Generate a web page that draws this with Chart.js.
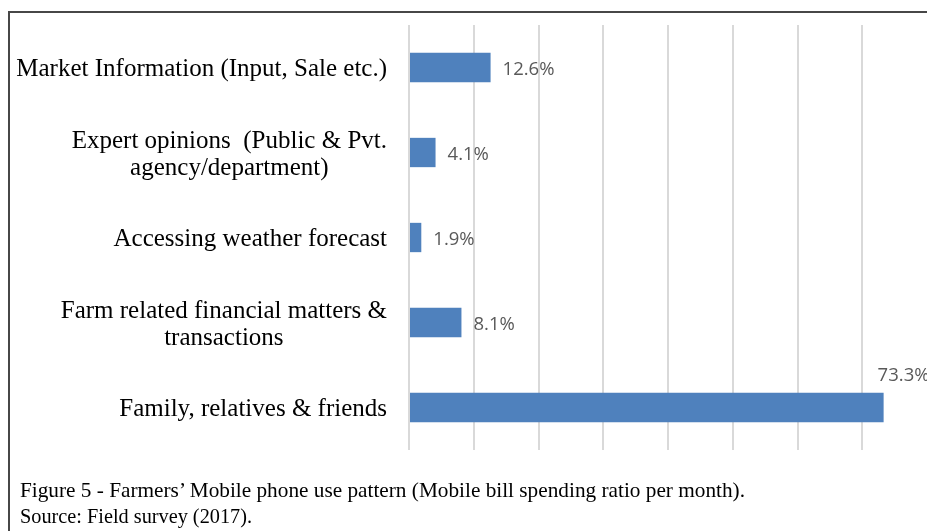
<!DOCTYPE html>
<html>
<head>
<meta charset="utf-8">
<script src="https://cdn.jsdelivr.net/npm/chart.js@4.4.1/dist/chart.umd.min.js"></script>
<style>
  html, body { margin: 0; padding: 0; background: #ffffff; }
  #wrap { position: relative; width: 927px; height: 531px; overflow: hidden; background: #fff; }
  #c { position: absolute; left: 0; top: 0; }
  .bt { position: absolute; left: 8px; top: 11px; width: 919px; height: 2px; background: #474747; }
  .bl { position: absolute; left: 8px; top: 11px; width: 2px; height: 520px; background: #474747; }
  .cap { position: absolute; left: 20px; font-family: "Liberation Serif", "Times New Roman", serif; font-size: 21.5px; color: #000; white-space: nowrap; line-height: 1; transform-origin: 0 0; }
</style>
</head>
<body>
<div id="wrap">
  <canvas id="c" width="927" height="531"></canvas>
  <div class="bt"></div>
  <div class="bl"></div>
  <div class="cap" id="cap1" style="top:480px;">Figure 5 - Farmers’ Mobile phone use pattern (Mobile bill spending ratio per month).</div>
  <div class="cap" id="cap2" style="top:506px;">Source: Field survey (2017).</div>
</div>
<script>
const categories = [
  ["Market Information (Input, Sale etc.)"],
  ["Expert opinions  (Public & Pvt.", "agency/department)"],
  ["Accessing weather forecast"],
  ["Farm related financial matters &", "transactions"],
  ["Family, relatives & friends"]
];
const values = [12.6, 4.1, 1.9, 8.1, 73.3];
const valueLabels = ["12.6%", "4.1%", "1.9%", "8.1%", "73.3%"];
const axisMin = 0;
const axisMax = 80;
const axisStep = 10;

// fit caption lines to the widths seen in the figure
[["cap1", 725], ["cap2", 232]].forEach(([id, target]) => {
  const el = document.getElementById(id);
  const w = el.getBoundingClientRect().width;
  if (w > 0) el.style.transform = 'scaleX(' + (target / w) + ')';
});

const labelPlugin = {
  id: 'labelPlugin',
  afterDraw(chart) {
    const ctx = chart.ctx;
    const meta = chart.getDatasetMeta(0);
    const yScale = chart.scales.y;
    ctx.save();
    // value labels
    ctx.font = '18.5px "Open Sans", "Liberation Sans", sans-serif';
    ctx.fillStyle = '#595959';
    ctx.textBaseline = 'middle';
    ctx.textAlign = 'left';
    meta.data.forEach((bar, i) => {
      const text = valueLabels[i];
      const w = ctx.measureText(text).width;
      let x = bar.x + 12;
      let y = bar.y + 2;
      if (x + w > chart.width) {
        x = bar.x - 6;
        y = bar.y - bar.height / 2 - 17;
      }
      ctx.fillText(text, x, y);
    });
    // category labels
    ctx.font = '25px "Liberation Serif", "Times New Roman", serif';
    ctx.fillStyle = '#000000';
    ctx.textAlign = 'center';
    const rightEdge = 387;
    const lh = 27;
    categories.forEach((lines, i) => {
      const cy = yScale.getPixelForTick(i) + 2;
      let maxW = 0;
      lines.forEach(l => { maxW = Math.max(maxW, ctx.measureText(l).width); });
      const cx = rightEdge - maxW / 2;
      lines.forEach((l, j) => {
        const y = cy + (j - (lines.length - 1) / 2) * lh;
        ctx.fillText(l, cx, y);
      });
    });
    ctx.restore();
  }
};

new Chart(document.getElementById('c'), {
  type: 'bar',
  data: {
    labels: categories,
    datasets: [{
      data: values,
      backgroundColor: '#4F81BD',
      borderWidth: 0,
      categoryPercentage: 1.0,
      barPercentage: 0.345
    }]
  },
  options: {
    indexAxis: 'y',
    responsive: false,
    animation: false,
    devicePixelRatio: 1,
    layout: { padding: { left: 409, top: 25, right: 0, bottom: 81 } },
    plugins: { legend: { display: false }, tooltip: { enabled: false } },
    scales: {
      x: {
        min: axisMin,
        max: axisMax,
        ticks: { display: false, stepSize: axisStep },
        grid: {
          drawTicks: false,
          lineWidth: 2,
          color: (c) => (c.tick && c.tick.value >= axisMax) ? 'rgba(0,0,0,0)' : '#d9d9d9'
        },
        border: { display: false }
      },
      y: {
        display: false
      }
    }
  },
  plugins: [labelPlugin]
});
</script>
</body>
</html>
